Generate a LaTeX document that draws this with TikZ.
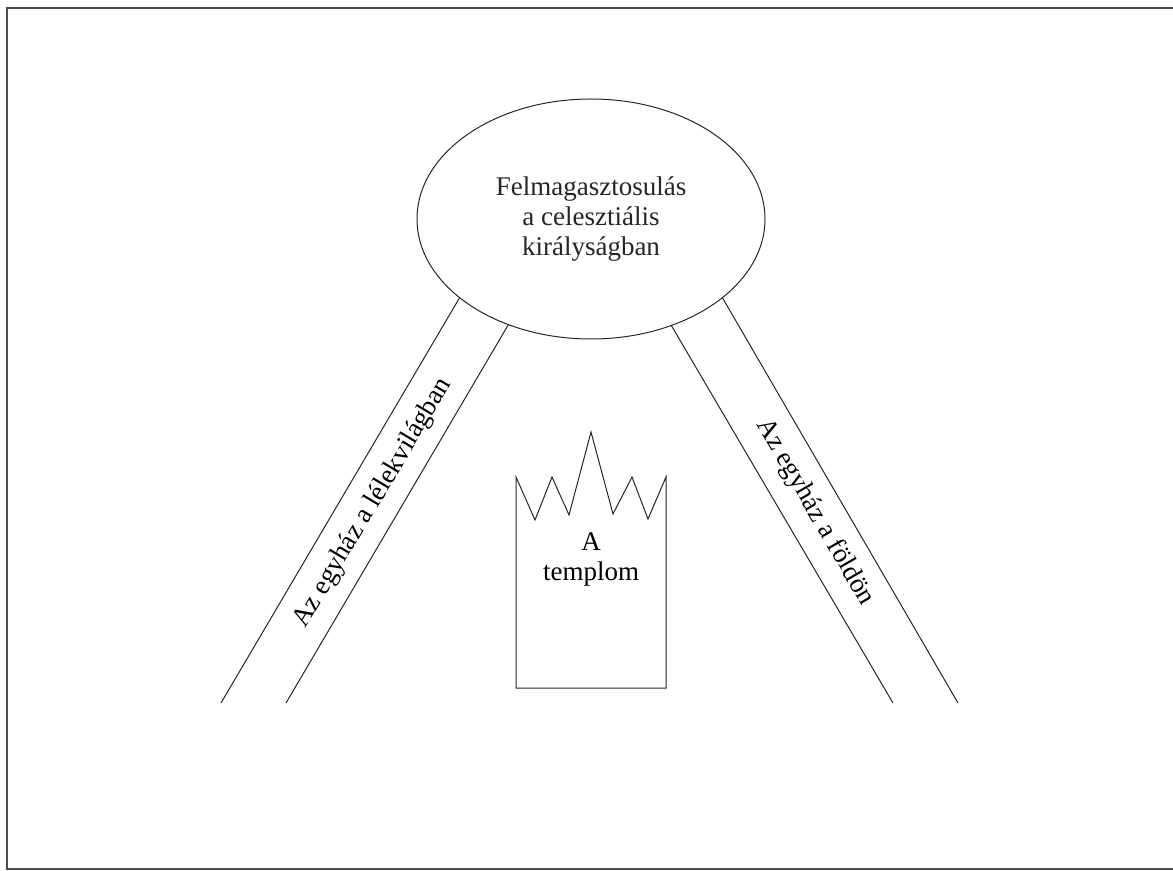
\documentclass[tikz,border=0pt]{standalone}
\usepackage{fontspec}
\setmainfont{Liberation Serif}
\usetikzlibrary{shapes.geometric}
\begin{document}
\begin{tikzpicture}[x=0.5pt,y=-0.5pt,
  every node/.style={font=\fontsize{13.5}{15}\selectfont},
  thinline/.style={line width=0.5pt, black!85},
  oval/.style={ellipse, draw, thinline, inner sep=0pt, minimum width=174pt, minimum height=120pt, align=center},
  bandtext/.style={inner sep=0pt}]
\useasboundingbox (0,0) rectangle (1173,871);
\draw[line width=0.8pt, black!70] (7,8) rectangle (1180,869);
\node[oval] (ell) at (591,219) {Felmagasztosulás\\a celesztiális\\királyságban};
% left band
\coordinate (lb1) at (221,703);
\coordinate (lb2) at (286,703);
\draw[thinline] (ell.211.6) -- (lb1);
\draw[thinline] (ell.232.9) -- (lb2);
\node[bandtext, rotate=59.2] (ltext) at (373,503) {Az egyház a lélekvilágban};
% right band
\coordinate (rb1) at (893,703);
\coordinate (rb2) at (958,703);
\draw[thinline] (ell.307.7) -- (rb1);
\draw[thinline] (ell.329.6) -- (rb2);
\node[bandtext, rotate=-59.9] (rtext) at (815,512) {Az egyház a földön};
% temple
\draw[thinline] (516,477) -- (535,520) -- (552,477) -- (569,515) -- (591,432) -- (613,514) -- (632,477) -- (648,519) -- (666,477) -- (666,688) -- (516,688) -- cycle;
\node[align=center, inner sep=0pt] (temple) at (591,559) {A\\templom};
\end{tikzpicture}
\end{document}
